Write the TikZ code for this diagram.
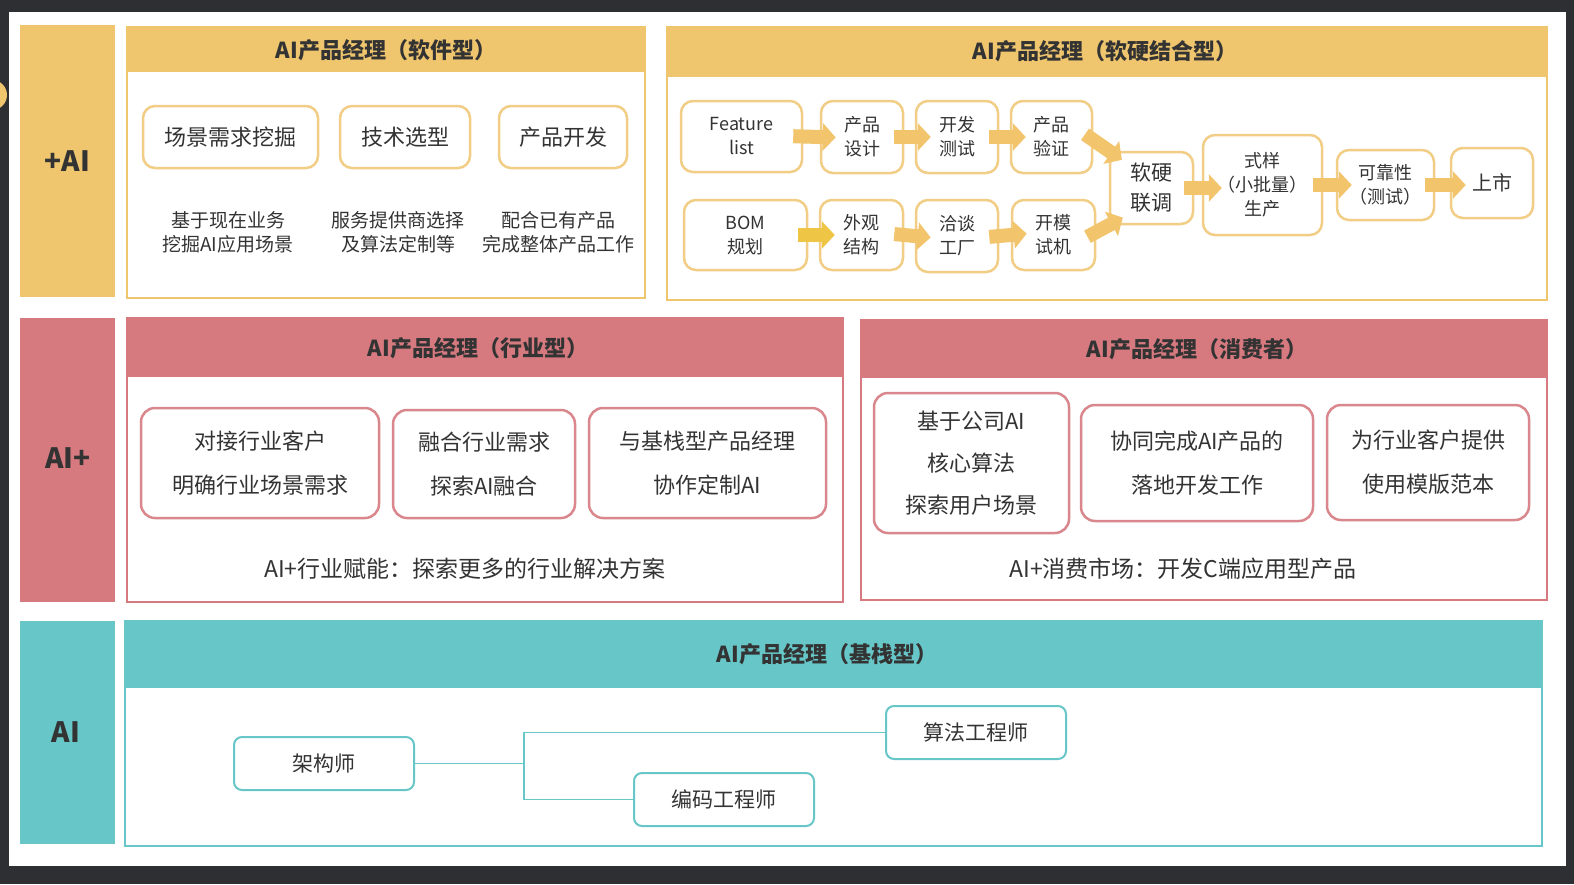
\documentclass[tikz,border=0pt]{standalone}
\usepackage{fontspec}
\setmainfont{Noto Sans CJK SC}
\usepackage{tikz}
\usetikzlibrary{arrows.meta, calc}

\definecolor{darkbg}{HTML}{2E2F33}
\definecolor{ylw}{HTML}{EFC56E}
\definecolor{ylwline}{HTML}{F1CD86}
\definecolor{arrowc}{HTML}{F2C46C}
\definecolor{arrowb}{HTML}{EFC545}
\definecolor{pnk}{HTML}{D67A80}
\definecolor{pnkline}{HTML}{D9878D}
\definecolor{tealc}{HTML}{67C6C8}
\definecolor{txt}{HTML}{333333}

\begin{document}
\begin{tikzpicture}[x=1pt, y=-1pt,
  ybox/.style={draw=ylwline, line width=2.5pt, rounded corners=12pt, fill=white,
    align=center, text=txt, inner sep=0pt},
  pbox/.style={draw=pnkline, line width=2.5pt, rounded corners=14pt, fill=white,
    align=center, text=txt, inner sep=0pt, font=\fontsize{22}{44}\selectfont},
  tbox/.style={draw=tealc, line width=2pt, rounded corners=8pt, fill=white,
    align=center, text=txt, inner sep=0pt, minimum width=180, minimum height=53,
    font=\fontsize{21}{26}\selectfont},
  title/.style={text=txt, font=\bfseries\fontsize{22}{26}\selectfont},
  side/.style={text=txt, font=\bfseries\fontsize{28}{32}\selectfont},
  desc/.style={text=txt, align=center, font=\fontsize{19}{24}\selectfont},
  hw/.style={ybox, font=\fontsize{18}{24}\selectfont},
  blockarrow/.style={draw=arrowc, line width=14pt, shorten <=-10pt, shorten >=-16pt,
    -{Triangle[length=13pt,width=27pt]}},
  link/.style={draw=tealc, line width=1.5pt}]

  \useasboundingbox (0,0) rectangle (1574,884);

  % -------------------------
  % Slide background
  % -------------------------
  \fill[darkbg] (0,0) rectangle (1574,884);
  \fill[ylw] (-8,95) circle[radius=15];
  \fill[white] (9,12) rectangle (1566,866);

  % -------------------------
  % TOP: +AI
  % -------------------------
  \fill[ylw] (20,25) rectangle (115,297);
  \node[side] (plusai) at (67.5,161) {+AI};

  % Software panel
  \draw[draw=ylw, line width=2.5pt, fill=white] (127,27) rectangle (645,298);
  \fill[ylw] (127,27) rectangle (645,72);
  \node[title] (swtitle) at (386,50) {AI产品经理（软件型）};

  \node[ybox, font=\fontsize{22}{26}\selectfont, minimum width=175, minimum height=62]
    (scene) at (230.5,137) {场景需求挖掘};
  \node[ybox, font=\fontsize{22}{26}\selectfont, minimum width=130, minimum height=62]
    (tech) at (405,137) {技术选型};
  \node[ybox, font=\fontsize{22}{26}\selectfont, minimum width=128, minimum height=62]
    (dev) at (563,137) {产品开发};

  \node[desc] (scenedesc) at (228,232) {基于现在业务\\挖掘AI应用场景};
  \node[desc] (techdesc) at (398,232) {服务提供商选择\\及算法定制等};
  \node[desc] (devdesc) at (558,232) {配合已有产品\\完成整体产品工作};

  % Hardware panel
  \draw[draw=ylw, line width=2.5pt, fill=white] (667,27) rectangle (1547,300);
  \fill[ylw] (667,27) rectangle (1547,77);
  \node[title] (hwtitle) at (1105,51) {AI产品经理（软硬结合型）};

  \node[hw, minimum width=121, minimum height=71] (feat) at (741.5,136.5) {Feature\\list};
  \node[hw, minimum width=82, minimum height=72] (design) at (862,137) {产品\\设计};
  \node[hw, minimum width=82, minimum height=72] (test) at (957,137) {开发\\测试};
  \node[hw, minimum width=81, minimum height=72] (verify) at (1051.5,137) {产品\\验证};
  \node[hw, minimum width=123, minimum height=70] (bom) at (745.5,235) {BOM\\规划};
  \node[hw, minimum width=83, minimum height=70] (look) at (861.5,235) {外观\\结构};
  \node[hw, minimum width=82, minimum height=72] (factory) at (957,236) {洽谈\\工厂};
  \node[hw, minimum width=83, minimum height=70] (mold) at (1053.5,235) {开模\\试机};
  \node[hw, font=\fontsize{21}{30}\selectfont, minimum width=83, minimum height=72]
    (joint) at (1151.5,188) {软硬\\联调};
  \node[hw, minimum width=119, minimum height=100] (batch) at (1262.5,185)
    {式样\\（小批量）\\生产};
  \node[hw, minimum width=97, minimum height=70] (reliab) at (1385.5,185) {可靠性\\（测试）};
  \node[hw, font=\fontsize{20}{24}\selectfont, minimum width=82, minimum height=70]
    (launch) at (1492,183) {上市};

  % Block arrows
  \draw[blockarrow] (feat.east) -- (design.west);
  \draw[blockarrow] (design.east) -- (test.west);
  \draw[blockarrow] (test.east) -- (verify.west);
  \draw[blockarrow, draw=arrowb] (bom.east) -- (look.west);
  \draw[blockarrow] (look.east) -- (factory.west);
  \draw[blockarrow] (factory.east) -- (mold.west);
  \draw[blockarrow] ([yshift=-3]verify.east) -- (joint.north west);
  \draw[blockarrow] ([yshift=3]mold.east) -- (joint.south west);
  \draw[blockarrow, shorten >=-20pt] (joint.east) -- (joint.east -| batch.west);
  \draw[blockarrow] (batch.east) -- (batch.east -| reliab.west);
  \draw[blockarrow] (reliab.east) -- (reliab.east -| launch.west);

  % -------------------------
  % MIDDLE: AI+
  % -------------------------
  \fill[pnk] (20,318) rectangle (115,602);
  \node[side] (aiplus) at (68,458) {AI+};

  % Industry panel
  \draw[draw=pnk, line width=2.5pt, fill=white] (127,318) rectangle (843,602);
  \fill[pnk] (127,318) rectangle (843,377);
  \node[title] (indtitle) at (478,348) {AI产品经理（行业型）};

  \node[pbox, minimum width=238, minimum height=110] (client) at (260,463)
    {对接行业客户\\明确行业场景需求};
  \node[pbox, minimum width=182, minimum height=108] (merge) at (484,464)
    {融合行业需求\\探索AI融合};
  \node[pbox, minimum width=237, minimum height=110] (coop) at (707.5,463)
    {与基栈型产品经理\\协作定制AI};
  \node[text=txt, font=\fontsize{23}{28}\selectfont] (indnote) at (465,569)
    {AI+行业赋能：探索更多的行业解决方案};

  % Consumer panel
  \draw[draw=pnk, line width=2.5pt, fill=white] (861,320) rectangle (1547,600);
  \fill[pnk] (861,320) rectangle (1547,378);
  \node[title] (contitle) at (1197,349) {AI产品经理（消费者）};

  \node[pbox, font=\fontsize{22}{42}\selectfont, minimum width=195, minimum height=140]
    (core) at (971.5,463) {基于公司AI\\核心算法\\探索用户场景};
  \node[pbox, minimum width=232, minimum height=116] (land) at (1197,463)
    {协同完成AI产品的\\落地开发工作};
  \node[pbox, minimum width=202, minimum height=115] (tmpl) at (1428,462.5)
    {为行业客户提供\\使用模版范本};
  \node[text=txt, font=\fontsize{23}{28}\selectfont] (connote) at (1183,569)
    {AI+消费市场：开发C端应用型产品};

  % -------------------------
  % BOTTOM: AI
  % -------------------------
  \fill[tealc] (20,621) rectangle (115,844);
  \node[side] (ai) at (66,732) {AI};

  % Base panel
  \draw[draw=tealc, line width=2.5pt, fill=white] (125,621) rectangle (1542,846);
  \fill[tealc] (125,621) rectangle (1542,688);
  \node[title] (basetitle) at (827,654) {AI产品经理（基栈型）};

  \node[tbox] (arch) at (324,763.5) {架构师};
  \node[tbox] (algo) at (976,732.5) {算法工程师};
  \node[tbox] (coder) at (724,799.5) {编码工程师};

  % Tree links
  \coordinate (fork) at (524,763.5);
  \draw[link] (arch.east) -- (fork);
  \draw[link] (fork) |- (algo.west);
  \draw[link] (fork) |- (coder.west);
\end{tikzpicture}
\end{document}
